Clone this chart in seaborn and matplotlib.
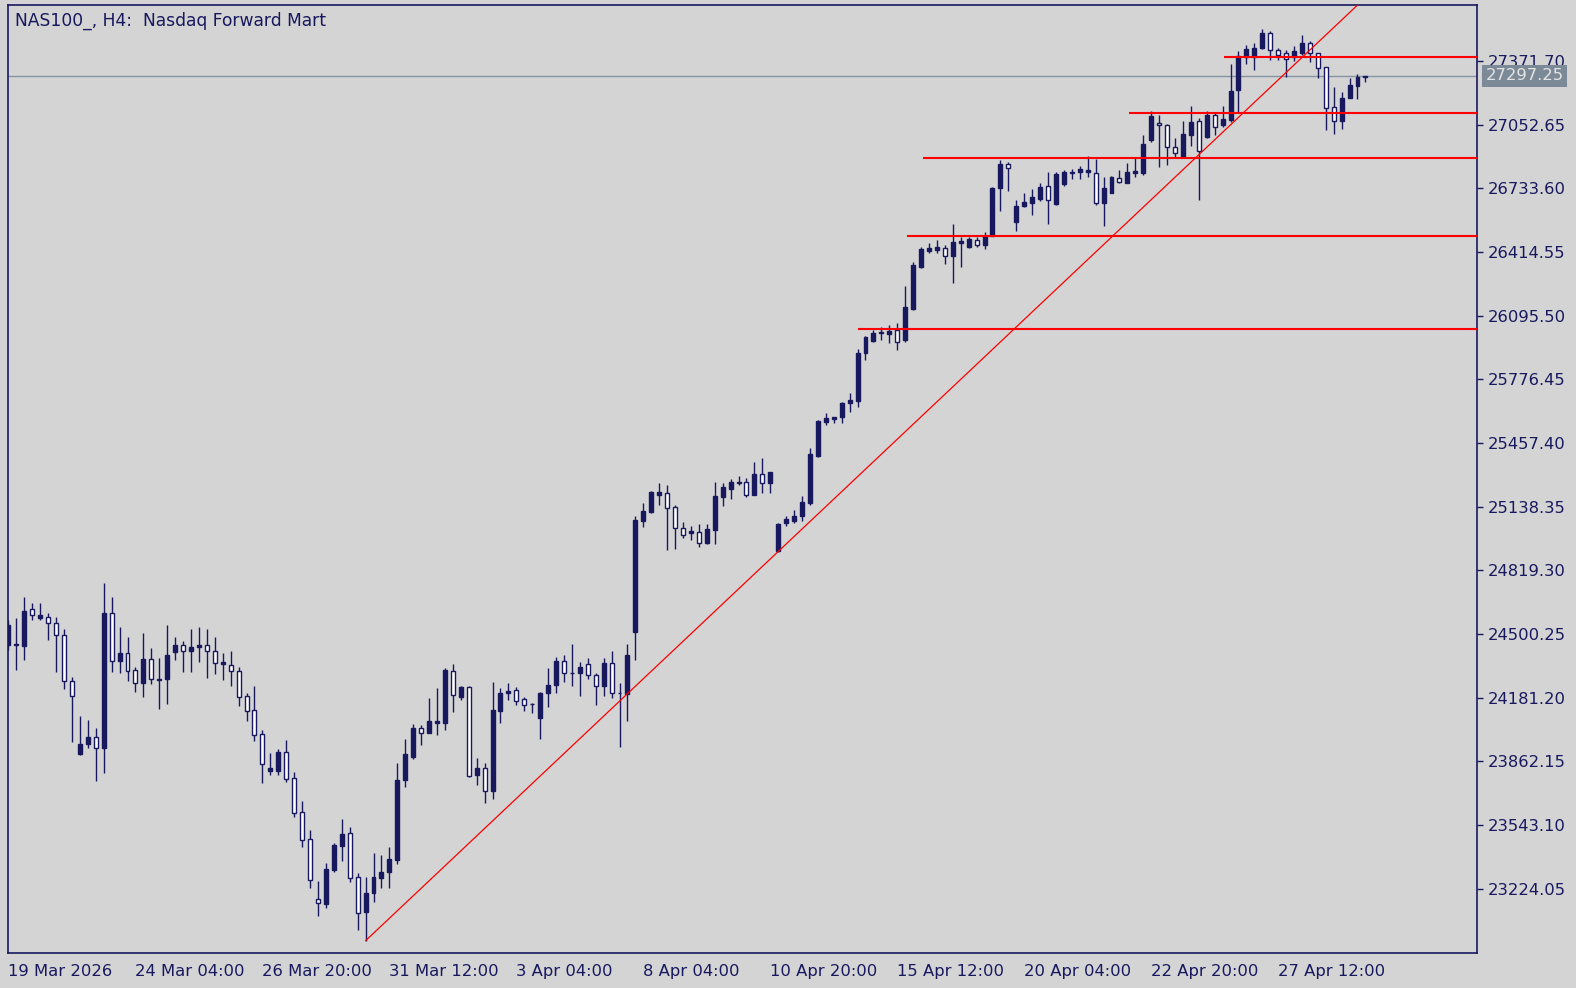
import numpy as np
import pandas as pd
import matplotlib
matplotlib.use("Agg")
import matplotlib.pyplot as plt
import matplotlib.transforms as mtransforms
import seaborn as sns

# NAS100 H4 bars
opens = [
    24446, 24446, 24441, 24626, 24581, 24586, 24556, 24496, 24265, 23899,
    23950, 23985, 23930, 24606, 24365, 24405, 24320, 24255, 24375, 24275,
    24275, 24410, 24446, 24415, 24435, 24446, 24415, 24350, 24345, 24315,
    24190, 24120, 24000, 23814, 23814, 23909, 23779, 23609, 23474, 23173,
    23148, 23318, 23439, 23504, 23283, 23108, 23203, 23278, 23308, 23368,
    23769, 23884, 24030, 24005, 24055, 24055, 24315, 24185, 24235, 23794,
    23829, 23714, 24115, 24205, 24220, 24175, 24150, 24080, 24205, 24245,
    24365, 24305, 24305, 24350, 24295, 24240, 24355, 24205, 24200, 24511,
    25067, 25112, 25197, 25207, 25137, 25032, 25007, 25012, 24957, 25022,
    25187, 25227, 25257, 25262, 25197, 25302, 25257, 24917, 25057, 25067,
    25092, 25157, 25392, 25563, 25578, 25588, 25658, 25668, 25909, 25969,
    26009, 26004, 26024, 25974, 26129, 26339, 26420, 26425, 26435, 26394,
    26460, 26440, 26475, 26450, 26495, 26735, 26855, 26565, 26645, 26660,
    26680, 26745, 26655, 26755, 26810, 26815, 26815, 26810, 26660, 26710,
    26785, 26760, 26810, 26810, 26976, 27061, 27051, 26941, 26890, 27001,
    27071, 26991, 27101, 27051, 27076, 27226, 27391, 27391, 27436, 27512,
    27426, 27411, 27391, 27411, 27462, 27411, 27341, 27141, 27071, 27186,
    27246, 27292,
]
highs = [
    24571, 24581, 24686, 24656, 24656, 24606, 24586, 24526, 24285, 24090,
    24070, 24030, 24756, 24686, 24536, 24486, 24335, 24506, 24430, 24380,
    24546, 24486, 24466, 24526, 24536, 24526, 24486, 24405, 24415, 24335,
    24205, 24240, 24020, 23904, 23924, 23970, 23809, 23664, 23519, 23263,
    23353, 23454, 23574, 23534, 23303, 23283, 23404, 23393, 23433, 23854,
    23975, 24050, 24045, 24180, 24230, 24330, 24350, 24240, 24240, 23879,
    23854, 24260, 24230, 24255, 24235, 24185, 24155, 24210, 24330, 24385,
    24395, 24451, 24360, 24380, 24305, 24380, 24415, 24255, 24451, 25092,
    25157, 25217, 25257, 25247, 25147, 25062, 25042, 25052, 25052, 25262,
    25257, 25277, 25292, 25282, 25362, 25382, 25312, 25057, 25092, 25122,
    25192, 25432, 25573, 25608, 25588, 25662, 25708, 25929, 25994, 26024,
    26039, 26049, 26059, 26244, 26364, 26440, 26460, 26475, 26450, 26555,
    26490, 26490, 26490, 26515, 26740, 26875, 26865, 26675, 26710, 26730,
    26760, 26815, 26815, 26825, 26830, 26845, 26895, 26880, 26790, 26795,
    26825, 26860, 26890, 27001, 27121, 27101, 27056, 26986, 27071, 27146,
    27086, 27121, 27111, 27146, 27356, 27421, 27451, 27461, 27532, 27522,
    27436, 27426, 27446, 27502, 27472, 27411, 27341, 27241, 27216, 27286,
    27306, 27298,
]
lows = [
    24420, 24320, 24370, 24571, 24571, 24471, 24310, 24225, 23960, 23894,
    23930, 23764, 23804, 24310, 24305, 24265, 24210, 24185, 24250, 24125,
    24150, 24370, 24310, 24310, 24360, 24280, 24300, 24270, 24240, 24140,
    24065, 23965, 23754, 23794, 23794, 23759, 23584, 23433, 23228, 23088,
    23128, 23308, 23363, 23258, 23018, 22963, 23158, 23228, 23228, 23348,
    23734, 23874, 23945, 24005, 23995, 24020, 24110, 24170, 23784, 23744,
    23654, 23674, 24055, 24170, 24145, 24115, 24105, 23975, 24135, 24205,
    24260, 24240, 24190, 24275, 24145, 24190, 24180, 23935, 24065, 24370,
    25037, 25107, 25147, 24922, 24927, 24982, 24972, 24937, 24952, 24952,
    25142, 25177, 25247, 25187, 25197, 25207, 25207, 24912, 25042, 25057,
    25067, 25147, 25387, 25548, 25558, 25558, 25613, 25638, 25873, 25964,
    25974, 25959, 25924, 25964, 26124, 26334, 26410, 26410, 26354, 26259,
    26339, 26435, 26440, 26430, 26495, 26620, 26720, 26520, 26640, 26600,
    26670, 26555, 26650, 26745, 26780, 26780, 26790, 26650, 26545, 26710,
    26760, 26760, 26790, 26800, 26966, 26840, 26850, 26885, 26885, 26946,
    26675, 26986, 27001, 27041, 27066, 27111, 27356, 27326, 27431, 27376,
    27376, 27291, 27371, 27401, 27366, 27286, 27026, 27006, 27031, 27186,
    27181, 27265,
]
closes = [
    24546, 24451, 24616, 24596, 24596, 24556, 24496, 24265, 24190, 23950,
    23985, 23930, 24606, 24365, 24405, 24315, 24255, 24375, 24275, 24272,
    24395, 24446, 24415, 24435, 24446, 24415, 24355, 24360, 24315, 24185,
    24115, 23995, 23849, 23829, 23909, 23774, 23604, 23469, 23268, 23153,
    23323, 23444, 23499, 23278, 23103, 23203, 23283, 23308, 23373, 23769,
    23899, 24030, 24005, 24065, 24065, 24320, 24195, 24235, 23789, 23829,
    23714, 24120, 24205, 24215, 24165, 24145, 24148, 24205, 24245, 24365,
    24305, 24303, 24335, 24295, 24240, 24355, 24205, 24203, 24395, 25072,
    25117, 25212, 25212, 25132, 25032, 24997, 25017, 24957, 25027, 25192,
    25237, 25262, 25262, 25197, 25302, 25257, 25312, 25052, 25077, 25092,
    25162, 25402, 25568, 25583, 25588, 25658, 25673, 25909, 25989, 26009,
    26014, 26019, 25964, 26139, 26349, 26430, 26435, 26440, 26394, 26465,
    26470, 26480, 26450, 26495, 26735, 26855, 26835, 26645, 26665, 26690,
    26740, 26675, 26805, 26815, 26815, 26830, 26825, 26660, 26735, 26790,
    26765, 26815, 26820, 26956, 27096, 27051, 26941, 26911, 27006, 27066,
    26921, 27101, 27041, 27081, 27221, 27396, 27431, 27436, 27512, 27426,
    27401, 27381, 27421, 27462, 27411, 27336, 27136, 27071, 27186, 27251,
    27291, 27297.25,
]

date_labels = ["19 Mar 2026", "24 Mar 04:00", "26 Mar 20:00", "31 Mar 12:00",
               "3 Apr 04:00", "8 Apr 04:00", "10 Apr 20:00", "15 Apr 12:00",
               "20 Apr 04:00", "22 Apr 20:00", "27 Apr 12:00"]
bars_per_label = 16

price_ticks = [23224.05, 23543.10, 23862.15, 24181.20, 24500.25, 24819.30,
               25138.35, 25457.40, 25776.45, 26095.50, 26414.55, 26733.60,
               27052.65, 27371.70]
current_price = 27297.25

# horizontal levels (price, first bar) and the rising trend line
level_prices = [27390, 27112, 26884, 26495, 26029]
level_starts = [153.2, 141.2, 115.2, 113.2, 107.1]
trend_bar = 45
trend_price = 22964
trend_per_bar = 37.5

title = "NAS100_, H4:  Nasdaq Forward Mart"

df = pd.DataFrame({"open": opens, "high": highs, "low": lows, "close": closes})
df["bar"] = np.arange(len(df))
df["up"] = df["close"] >= df["open"]

navy = "#18185f"
bg = "#d4d4d4"

sns.set_theme(style="white", rc={"axes.facecolor": bg, "figure.facecolor": bg})
plt.rcParams["font.family"] = ["DejaVu Sans"]

fig = plt.figure(figsize=(15.76, 9.88), dpi=100)
ax = fig.add_axes([8 / 1576, 35 / 988, 1469 / 1576, 948 / 988])
ax.set_facecolor(bg)

ax.axhline(current_price, color="#8794a3", lw=1, zorder=1)

# candles: filled = up, hollow = down
ax.vlines(df["bar"], df["low"], df["high"], color=navy, lw=1.0, zorder=2)
body_low = np.minimum(df["open"], df["close"])
body_h = (df["close"] - df["open"]).abs()
ax.bar(df["bar"], body_h, bottom=body_low, width=0.5,
       color=list(np.where(df["up"], navy, "white")),
       edgecolor=navy, linewidth=1.0, zorder=3)

ax.hlines(level_prices, level_starts, 200, color="red", lw=1.5, zorder=4)

tx = np.array([trend_bar, 200])
ty = trend_price + trend_per_bar * (tx - trend_bar)
sns.lineplot(x=tx, y=ty, ax=ax, color="red", lw=0.9, zorder=4)

ax.set_xlim(-0.06, 185.06)
ax.set_ylim(22902.5, 27652)

ax.yaxis.tick_right()
ax.set_yticks(price_ticks)
ax.set_yticklabels([f"{p:.2f}" for p in price_ticks])
ax.set_xticks(np.arange(len(date_labels)) * bars_per_label)
ax.set_xticklabels(date_labels, ha="left")
ax.tick_params(axis="both", colors=navy, labelcolor=navy, labelsize=11.8,
               length=4, width=1, direction="out", pad=4)
ax.set_xlabel("")
ax.set_ylabel("")
for s in ax.spines.values():
    s.set_color(navy)
    s.set_linewidth(1.2)
    s.set_visible(True)

ax.text(0.0045, 0.993, title, transform=ax.transAxes, va="top", ha="left",
        color=navy, fontsize=12.3)

trans = mtransforms.blended_transform_factory(ax.transAxes, ax.transData)
ax.text(1.0058, current_price, f"{current_price:.2f}", transform=trans,
        va="center", ha="left", color="#e4e4e4", fontsize=11.8, clip_on=False,
        zorder=10, bbox=dict(boxstyle="square,pad=0.2", fc="#7c8a98", ec="none"))

fig.savefig("out.png", dpi=100, facecolor=bg)
